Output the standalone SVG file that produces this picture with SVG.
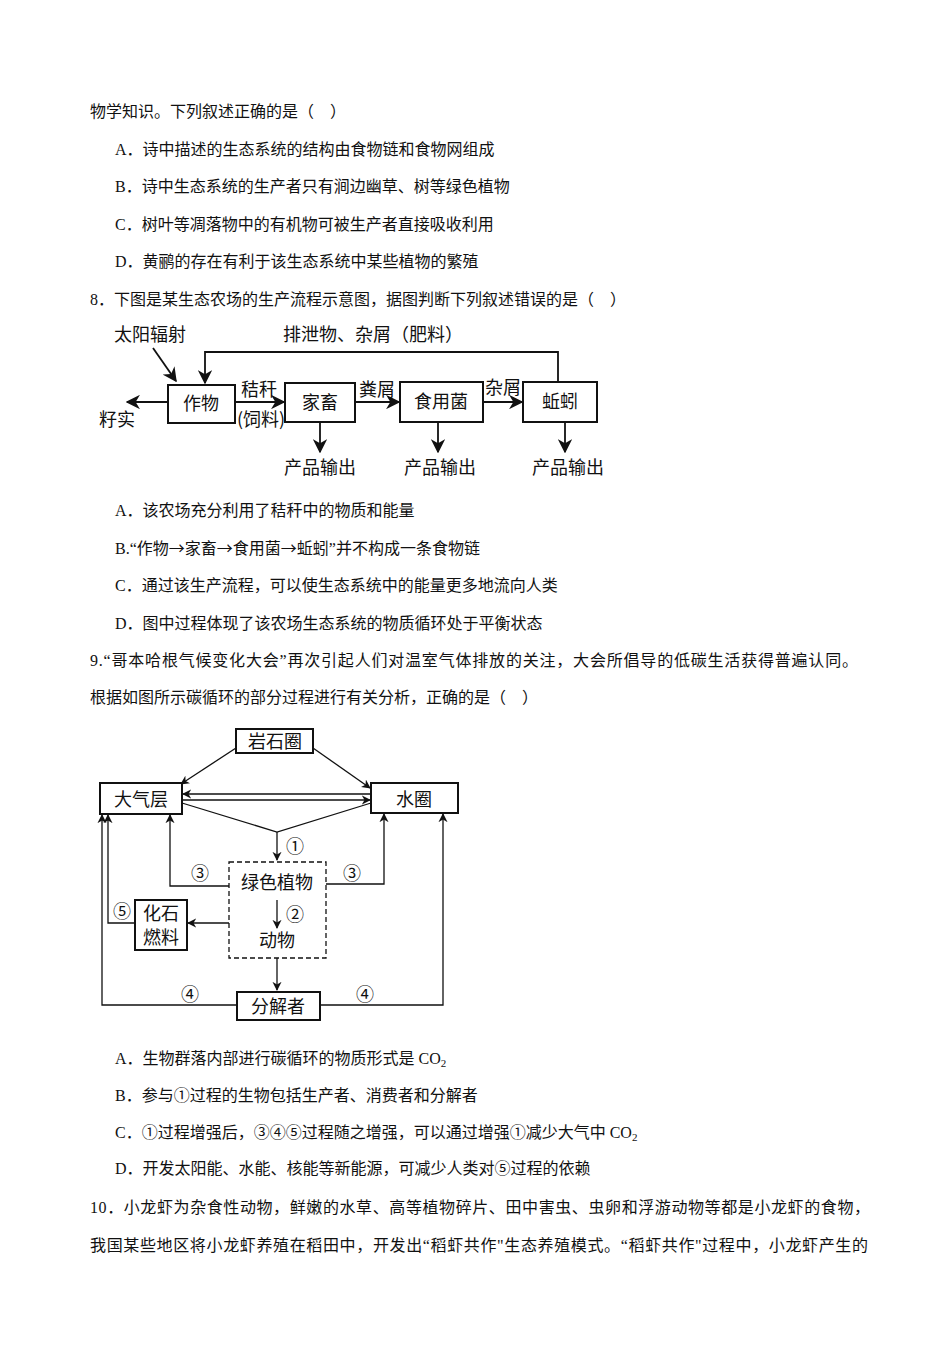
<svg xmlns="http://www.w3.org/2000/svg" width="950" height="1345" viewBox="0 0 950 1345">
<style>
.t{font-family:"Liberation Serif","Noto Sans CJK SC",serif;font-size:16px;fill:#111}
.d{font-family:"Noto Sans CJK SC",sans-serif;font-size:18px;fill:#111}
.b{fill:#fff;stroke:#111;stroke-width:2}
.l{fill:none;stroke:#111;stroke-width:1.8}
.m{fill:none;stroke:#111;stroke-width:1.3}
.ar{font-family:"Noto Sans CJK SC",sans-serif}
</style>
<defs>
<marker id="a" viewBox="0 0 10 10" refX="9" refY="5" markerWidth="7" markerHeight="7" orient="auto"><path d="M0,0L10,5L0,10L3,5z" fill="#111"/></marker>
<marker id="a2" viewBox="0 0 10 10" refX="9" refY="5" markerWidth="8" markerHeight="8" orient="auto"><path d="M0,0L10,5L0,10L3,5z" fill="#111"/></marker>
</defs>
<rect width="950" height="1345" fill="#fff"/>
<g id="text">
<text class="t" x="90" y="117">物学知识。下列叙述正确的是（　）</text>
<text class="t" x="115" y="155">A．诗中描述的生态系统的结构由食物链和食物网组成</text>
<text class="t" x="115" y="192">B．诗中生态系统的生产者只有涧边幽草、树等绿色植物</text>
<text class="t" x="115" y="230">C．树叶等凋落物中的有机物可被生产者直接吸收利用</text>
<text class="t" x="115" y="267">D．黄鹂的存在有利于该生态系统中某些植物的繁殖</text>
<text class="t" x="90" y="305">8．下图是某生态农场的生产流程示意图，据图判断下列叙述错误的是（　）</text>
<text class="t" x="115" y="516">A．该农场充分利用了秸秆中的物质和能量</text>
<text class="t" x="115" y="554">B.“作物<tspan class="ar">→</tspan>家畜<tspan class="ar">→</tspan>食用菌<tspan class="ar">→</tspan>蚯蚓”并不构成一条食物链</text>
<text class="t" x="115" y="591">C．通过该生产流程，可以使生态系统中的能量更多地流向人类</text>
<text class="t" x="115" y="629">D．图中过程体现了该农场生态系统的物质循环处于平衡状态</text>
<text class="t" x="90" y="666" textLength="768" lengthAdjust="spacing">9.“哥本哈根气候变化大会”再次引起人们对温室气体排放的关注，大会所倡导的低碳生活获得普遍认同。</text>
<text class="t" x="90" y="703">根据如图所示碳循环的部分过程进行有关分析，正确的是（　）</text>
<text class="t" x="115" y="1064">A．生物群落内部进行碳循环的物质形式是 CO<tspan font-size="11" dy="3">2</tspan></text>
<text class="t" x="115" y="1101">B．参与①过程的生物包括生产者、消费者和分解者</text>
<text class="t" x="115" y="1138">C．①过程增强后，③④⑤过程随之增强，可以通过增强①减少大气中 CO<tspan font-size="11" dy="3">2</tspan></text>
<text class="t" x="115" y="1174">D．开发太阳能、水能、核能等新能源，可减少人类对⑤过程的依赖</text>
<text class="t" x="90" y="1213" textLength="780" lengthAdjust="spacing">10．小龙虾为杂食性动物，鲜嫩的水草、高等植物碎片、田中害虫、虫卵和浮游动物等都是小龙虾的食物，</text>
<text class="t" x="90" y="1251" textLength="778" lengthAdjust="spacing">我国某些地区将小龙虾养殖在稻田中，开发出“稻虾共作"生态养殖模式。“稻虾共作"过程中，小龙虾产生的</text>
</g>
<g id="farm-connectors">
<path class="l" d="M558,382V352H205V383" marker-end="url(#a2)"/>
<path class="l" d="M153,348L176,381" marker-end="url(#a2)"/>
<path class="l" d="M168,402H127" marker-end="url(#a2)"/>
<path class="l" d="M235,402H284" marker-end="url(#a2)"/>
<path class="l" d="M355,402H399" marker-end="url(#a2)"/>
<path class="l" d="M483,402H522" marker-end="url(#a2)"/>
<path class="l" d="M320,422V452" marker-end="url(#a2)"/>
<path class="l" d="M438,422V452" marker-end="url(#a2)"/>
<path class="l" d="M565,422V452" marker-end="url(#a2)"/>
</g>
<g id="farm-nodes">
<g id="zuowu"><rect class="b" x="168" y="385" width="67" height="38"/><text class="d" x="201" y="410" text-anchor="middle">作物</text></g>
<g id="jiachu"><rect class="b" x="285" y="383" width="70" height="39"/><text class="d" x="320" y="409" text-anchor="middle">家畜</text></g>
<g id="shiyongjun"><rect class="b" x="400" y="382" width="83" height="40"/><text class="d" x="441" y="408" text-anchor="middle">食用菌</text></g>
<g id="qiuyin"><rect class="b" x="523" y="382" width="74" height="40"/><text class="d" x="560" y="408" text-anchor="middle">蚯蚓</text></g>
<text class="d" x="150" y="341" text-anchor="middle">太阳辐射</text>
<text class="d" x="373" y="341" text-anchor="middle">排泄物、杂屑（肥料）</text>
<text class="d" x="117" y="426" text-anchor="middle">籽实</text>
<text class="d" x="259" y="396" text-anchor="middle">秸秆</text>
<text class="d" x="261" y="426" text-anchor="middle">(饲料)</text>
<text class="d" x="377" y="396" text-anchor="middle">粪屑</text>
<text class="d" x="503" y="394" text-anchor="middle">杂屑</text>
<text class="d" x="320" y="474" text-anchor="middle">产品输出</text>
<text class="d" x="440" y="474" text-anchor="middle">产品输出</text>
<text class="d" x="568" y="474" text-anchor="middle">产品输出</text>
</g>
<g id="carbon-connectors">
<path class="m" d="M236,748L181,784" marker-end="url(#a)"/>
<path class="m" d="M313,748L370,788" marker-end="url(#a)"/>
<path class="m" d="M371,794H183" marker-end="url(#a)"/>
<path class="m" d="M182,800H370" marker-end="url(#a)"/>
<path class="m" d="M182,803L277,832L371,803"/>
<path class="m" d="M277,832V860" marker-end="url(#a)"/>
<path class="m" d="M229,886H170V815" marker-end="url(#a)"/>
<path class="m" d="M326,884H384V814" marker-end="url(#a)"/>
<path class="m" d="M229,923H188" marker-end="url(#a)"/>
<path class="m" d="M135,923H108V815" marker-end="url(#a)"/>
<path class="m" d="M237,1005H102V815" marker-end="url(#a)"/>
<path class="m" d="M320,1005H443V814" marker-end="url(#a)"/>
<path class="m" d="M277,900V928" marker-end="url(#a)"/>
<path class="m" d="M277,958V990" marker-end="url(#a)"/>
</g>
<g id="carbon-nodes">
<g id="yanshiquan"><rect class="b" x="236" y="729" width="77" height="24" stroke-width="1.5"/><text class="d" x="275" y="748" text-anchor="middle">岩石圈</text></g>
<g id="daqiceng"><rect class="b" x="100" y="783" width="82" height="31" stroke-width="1.5"/><text class="d" x="141" y="806" text-anchor="middle">大气层</text></g>
<g id="shuiquan"><rect class="b" x="371" y="783" width="87" height="30" stroke-width="1.5"/><text class="d" x="414" y="806" text-anchor="middle">水圈</text></g>
<g id="shengwu"><rect x="229" y="862" width="97" height="96" fill="none" stroke="#111" stroke-width="1.3" stroke-dasharray="5,3"/>
<text class="d" x="277" y="889" text-anchor="middle">绿色植物</text><text class="d" x="277" y="947" text-anchor="middle">动物</text></g>
<g id="huashi"><rect class="b" x="135" y="900" width="52" height="50" stroke-width="1.5"/><text class="d" x="161" y="920" text-anchor="middle" font-size="17">化石</text><text class="d" x="161" y="944" text-anchor="middle" font-size="17">燃料</text></g>
<g id="fenjiezhe"><rect class="b" x="237" y="992" width="83" height="28" stroke-width="1.5"/><text class="d" x="278" y="1013" text-anchor="middle">分解者</text></g>
<text class="d" x="295" y="853" text-anchor="middle">①</text>
<text class="d" x="295" y="921" text-anchor="middle">②</text>
<text class="d" x="200" y="880" text-anchor="middle">③</text>
<text class="d" x="352" y="880" text-anchor="middle">③</text>
<text class="d" x="122" y="918" text-anchor="middle">⑤</text>
<text class="d" x="190" y="1001" text-anchor="middle">④</text>
<text class="d" x="365" y="1001" text-anchor="middle">④</text>
</g>
</svg>
